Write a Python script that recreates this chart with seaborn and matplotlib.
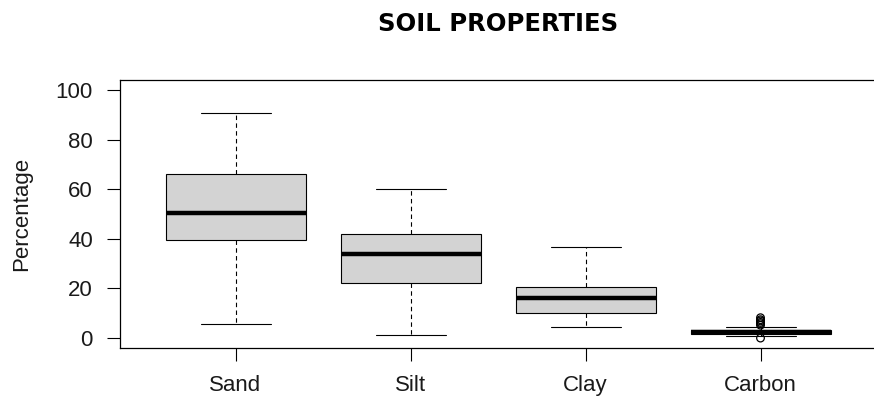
import matplotlib
matplotlib.use("Agg")
import matplotlib.pyplot as plt
import seaborn as sns
import pandas as pd

# Five-number summaries (lower whisker, Q1, median, Q3, upper whisker) per soil property
categories = ["Sand", "Silt", "Clay", "Carbon"]
whisker_low = [5.6, 1.2, 4.4, 0.7]
q1 = [39.5, 22.2, 10.1, 1.7]
median = [50.4, 33.9, 16.1, 2.4]
q3 = [66.1, 41.9, 20.6, 3.2]
whisker_high = [90.7, 60.0, 36.7, 4.5]

# Values beyond the whiskers
carbon_outliers = [0.0, 5.2, 5.8, 6.3, 6.9, 7.4, 8.2]

yticks = [0, 20, 40, 60, 80, 100]

sns.set_style("ticks")
plt.rcParams["font.family"] = ["Liberation Sans", "DejaVu Sans"]

rows = []
for i, name in enumerate(categories):
    for v in (whisker_low[i], q1[i], median[i], q3[i], whisker_high[i]):
        rows.append({"Soil": name, "Percentage": v})
df = pd.DataFrame(rows)

fig = plt.figure(figsize=(8.74, 4.0), dpi=100)
ax = fig.add_axes([120 / 874, 52 / 400, 756 / 874, 268.5 / 400])

sns.boxplot(
    data=df, x="Soil", y="Percentage", order=categories,
    whis=(0, 100), width=0.8, color="#d3d3d3", saturation=1,
    linecolor="black", linewidth=0.8, fliersize=0,
    medianprops=dict(linewidth=3.2, color="black"),
    whiskerprops=dict(linestyle=(0, (4, 3)), linewidth=0.8, color="black"),
    capprops=dict(linewidth=0.8, color="black"),
    boxprops=dict(edgecolor="black", linewidth=0.8),
    ax=ax,
)

outlier_df = pd.DataFrame({"Soil": ["Carbon"] * len(carbon_outliers),
                           "Percentage": carbon_outliers})
sns.stripplot(data=outlier_df, x="Soil", y="Percentage", order=categories,
              jitter=False, size=5.5, color="black", ax=ax, zorder=5)
pts = ax.collections[-1]
pts.set_facecolor("none")
pts.set_edgecolor("black")
pts.set_linewidth(0.9)

ax.set_xlim(-0.66, 3.66)
ax.set_ylim(-4.0, 104.2)
ax.set_yticks(yticks)
ax.set_yticklabels([str(t) for t in yticks])

for side in ("left", "right", "top", "bottom"):
    ax.spines[side].set_visible(True)
    ax.spines[side].set_color("black")
    ax.spines[side].set_linewidth(0.9)

ax.tick_params(axis="both", direction="out", length=9.5, width=0.8,
               color="black", labelsize=16, labelcolor="#1a1a1a", pad=10)

ax.set_xlabel("")
ax.set_ylabel("Percentage", fontsize=16, color="#1a1a1a")
ax.yaxis.set_label_coords(-0.1164, 0.5)

ax.set_title("SOIL PROPERTIES", fontsize=17.5, fontweight="bold",
             family="DejaVu Sans", color="black", pad=35)

fig.savefig("out.png", dpi=100)
